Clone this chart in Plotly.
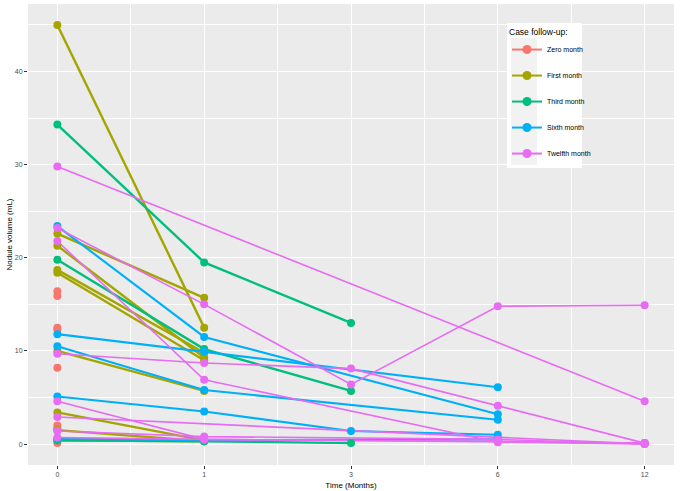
import plotly.graph_objects as go

# follow-up time points (x categories) and group colours (ggplot hue palette)
months = ["0", "1", "3", "6", "12"]
groups = ["Zero month", "First month", "Third month", "Sixth month", "Twelfth month"]
colors = ["#F8766D", "#A3A500", "#00BF7D", "#00B0F6", "#E76BF3"]

# nodule volume (mL) per patient, one list per patient, None = not measured
zero_month = [[16.4], [15.9], [12.5], [12.3], [8.2], [2.0], [1.7], [0.1]]
first_month = [
    [45.0, 12.5],
    [22.6, 15.7],
    [21.3, 9.3],
    [18.7, 9.8],
    [18.4, 9.0],
    [10.0, 5.7],
    [3.4, 0.4],
    [1.5, 0.3],
    [0.4, 0.3],
]
third_month = [
    [34.3, 19.5, 13.0],
    [19.8, 10.2, 5.7],
    [0.4, 0.3, 0.1],
]
sixth_month = [
    [23.4, 11.5, None, 3.2],
    [11.8, 9.9, None, 6.1],
    [10.5, 5.8, None, 2.6],
    [5.1, 3.5, 1.4, 1.0],
    [0.6, 0.4, None, 0.5],
]
twelfth_month = [
    [29.8, None, None, None, 4.6],
    [23.2, 15.0, 6.4, 14.8, 14.9],
    [21.8, 6.9, None, 0.2, 0.0],
    [9.7, 8.7, 8.1, 4.1, 0.1],
    [4.6, 0.5, None, None, 0.1],
    [2.9, None, None, None, 0.0],
    [1.4, 0.8, None, 0.5, 0.0],
    [0.7, 0.5, None, 0.3, 0.1],
]
series = [zero_month, first_month, third_month, sixth_month, twelfth_month]
line_w = [2.4, 2.4, 2.4, 2.1, 1.6]

W, H = 685, 491
M = dict(l=28, r=11, t=4, b=26)
xpos = list(range(1, len(months) + 1))


def px_x(p):
    return (p - M["l"]) / (W - M["l"] - M["r"])


def px_y(p):
    return 1 - (p - M["t"]) / (H - M["t"] - M["b"])


fig = go.Figure()
# lines first (under all points, like geom_line + geom_point)
for g, c, lw, pats in zip(groups, colors, line_w, series):
    for v in pats:
        if len(v) > 1:
            fig.add_scatter(x=xpos[:len(v)], y=v, mode="lines", connectgaps=True,
                            line=dict(color=c, width=lw), legendgroup=g,
                            showlegend=False, hoverinfo="skip")
for g, c, pats in zip(groups, colors, series):
    for v in pats:
        fig.add_scatter(x=xpos[:len(v)], y=v, mode="markers", legendgroup=g,
                        marker=dict(color=c, size=8), showlegend=False,
                        hovertemplate=g + ": %{y} mL<extra></extra>")
# legend entries
for g, c in zip(groups, colors):
    fig.add_scatter(x=[None], y=[None], mode="lines+markers", name=g, legendgroup=g,
                    line=dict(color=c, width=2), marker=dict(color=c, size=9))

# legend box (white) with grey key background
fig.add_shape(type="rect", xref="paper", yref="paper", layer="above",
              x0=px_x(507), x1=px_x(582), y0=px_y(168), y1=px_y(23),
              fillcolor="white", line_width=0)
fig.add_shape(type="rect", xref="paper", yref="paper", layer="above",
              x0=px_x(511), x1=px_x(537), y0=px_y(165), y1=px_y(38),
              fillcolor="#F2F2F2", line_width=0)

axis_common = dict(showline=False, zeroline=False, gridcolor="white", gridwidth=1.1,
                   ticks="outside", ticklen=3, tickcolor="#333333", tickwidth=1,
                   tickfont=dict(size=7, color="#4D4D4D"), automargin=False)
fig.update_xaxes(range=[0.8, 5.2], tickmode="array", tickvals=xpos, ticktext=months,
                 minor=dict(tickvals=[p + 0.5 for p in xpos[:-1]], showgrid=True,
                            gridcolor="white", gridwidth=0.5, ticks=""),
                 title=dict(text="Time (Months)", font=dict(size=8, color="black"), standoff=4),
                 **axis_common)
fig.update_yaxes(range=[-2.25, 47.25], tickmode="linear", tick0=0, dtick=10,
                 minor=dict(tickmode="linear", tick0=5, dtick=10, showgrid=True,
                            gridcolor="white", gridwidth=0.5, ticks=""),
                 title=dict(text="Nodule volume (mL)", font=dict(size=8, color="black"), standoff=1),
                 **axis_common)
fig.update_layout(
    width=W, height=H, margin=M,
    plot_bgcolor="#EBEBEB", paper_bgcolor="white",
    font=dict(family="Liberation Sans, Arial, sans-serif"),
    legend=dict(x=px_x(507), y=px_y(24), xanchor="left", yanchor="top",
                bgcolor="rgba(0,0,0,0)", traceorder="grouped", tracegroupgap=7,
                title=dict(text="Case follow-up:", font=dict(size=8.5, color="black")),
                font=dict(size=7, color="black"), itemwidth=30),
)
# page body margin would shift the figure by 8px
fig.write_html("out.html", config={"displayModeBar": False},
               post_script="document.body.style.margin='0';")
